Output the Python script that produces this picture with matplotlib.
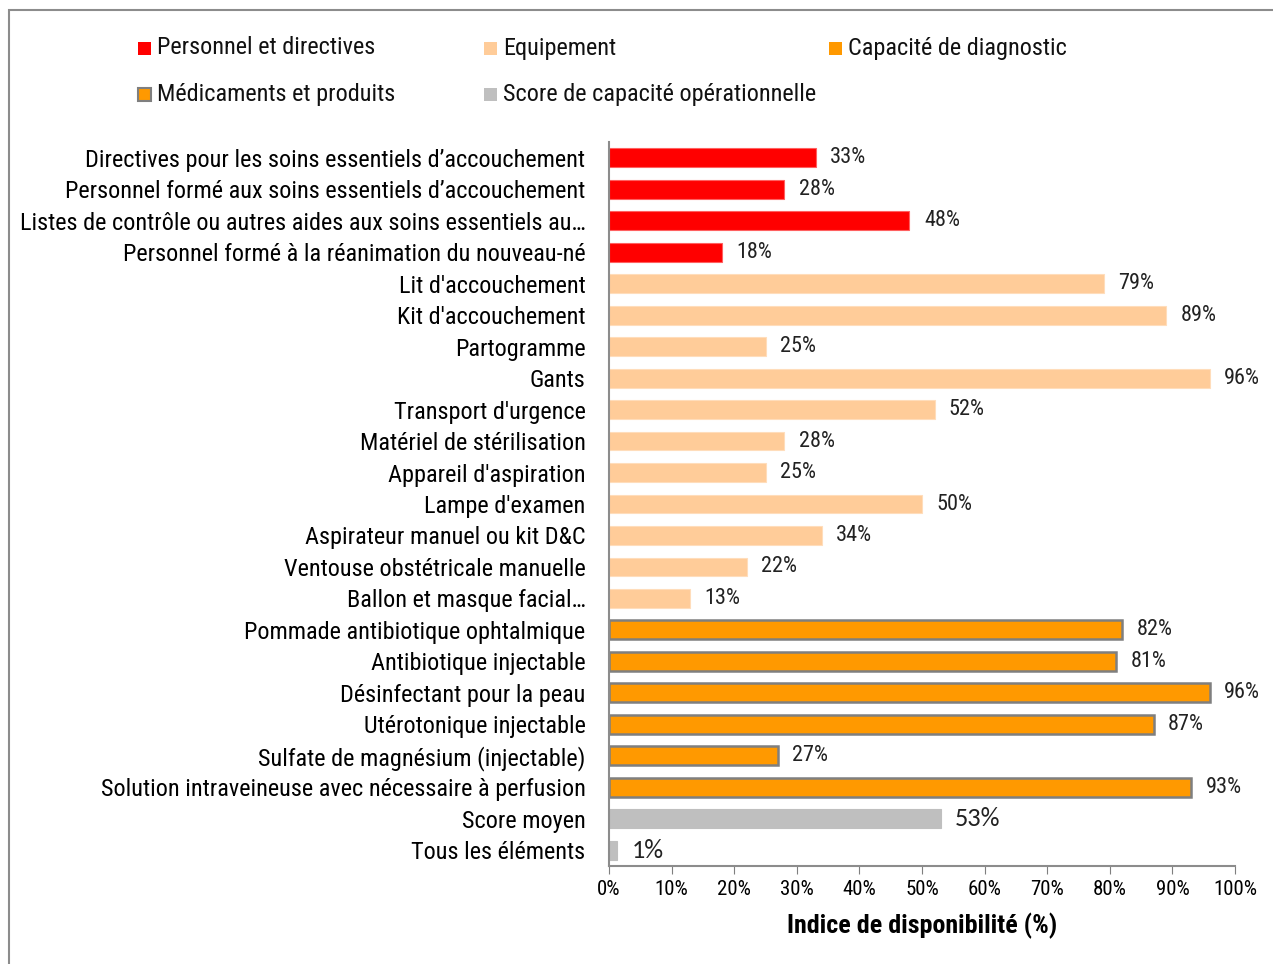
import numpy as np
import matplotlib
matplotlib.use("Agg")
import matplotlib.pyplot as plt
from matplotlib.patches import Rectangle
from matplotlib import font_manager

names = {f.name for f in font_manager.fontManager.ttflist}
narrow = 'Roboto Condensed' if 'Roboto Condensed' in names else 'Liberation Sans'
calib = 'Carlito' if 'Carlito' in names else 'Open Sans'
plt.rcParams['font.family'] = [narrow, 'DejaVu Sans']

labels = [
    "Directives pour les soins essentiels d\u2019accouchement",
    "Personnel formé aux soins essentiels d\u2019accouchement",
    "Listes de contrôle ou autres aides aux soins essentiels au\u2026",
    "Personnel formé à la réanimation du nouveau-né",
    "Lit d'accouchement",
    "Kit d'accouchement",
    "Partogramme",
    "Gants",
    "Transport d'urgence",
    "Matériel de stérilisation",
    "Appareil d'aspiration",
    "Lampe d'examen",
    "Aspirateur manuel ou kit D&C",
    "Ventouse obstétricale manuelle",
    "Ballon et masque facial\u2026",
    "Pommade antibiotique ophtalmique",
    "Antibiotique injectable",
    "Désinfectant pour la peau",
    "Utérotonique injectable",
    "Sulfate de magnésium (injectable)",
    "Solution intraveineuse avec nécessaire à perfusion",
    "Score moyen",
    "Tous les éléments",
]
values = [33, 28, 48, 18, 79, 89, 25, 96, 52, 28, 25, 50, 34, 22, 13,
          82, 81, 96, 87, 27, 93, 53, 1.3]
value_text = ["33%", "28%", "48%", "18%", "79%", "89%", "25%", "96%", "52%", "28%",
              "25%", "50%", "34%", "22%", "13%", "82%", "81%", "96%", "87%", "27%",
              "93%", "53%", "1%"]
groups = ["perso"] * 4 + ["equip"] * 11 + ["med"] * 6 + ["score"] * 2

legend_names = {
    "perso": "Personnel et directives",
    "equip": "Equipement",
    "diag": "Capacité de diagnostic",
    "med": "Médicaments et produits",
    "score": "Score de capacité opérationnelle",
}
fill = {"perso": "#FF0000", "equip": "#FFCC99", "diag": "#FF9900",
        "med": "#FF9900", "score": "#BFBFBF"}
edge = {"perso": "#FF6060", "equip": "#FFDDBB", "diag": "#FF9900",
        "med": "#7F7F7F", "score": "#BFBFBF"}

fig = plt.figure(figsize=(12.73, 9.64), dpi=100)
ax = fig.add_axes([609 / 1273, 1 - 866 / 964, 626 / 1273, (866 - 142) / 964])

y = np.arange(len(labels))
for i in range(len(labels)):
    g = groups[i]
    lw = 1.8 if g == "med" else 0.8
    ax.barh(y[i], values[i], height=0.6, color=fill[g], edgecolor=edge[g], linewidth=lw)
    if g == "score":
        ax.text(values[i] + 2.3, y[i], value_text[i], va='center', ha='left',
                fontsize=19, family=[calib, 'DejaVu Sans'], color='#222222')
    else:
        ax.text(values[i] + 2.3, y[i], value_text[i], va='center', ha='left',
                fontsize=16, color='#222222')

ax.set_ylim(len(labels) - 0.5, -0.5)
ax.set_xlim(0, 100)
ax.set_yticks(y)
ax.set_yticklabels(labels, fontsize=17.5)
ax.tick_params(axis='y', length=0, pad=17)
ax.set_xticks(np.arange(0, 101, 10))
ax.set_xticklabels([f"{t}%" for t in range(0, 101, 10)], fontsize=15)
ax.tick_params(axis='x', length=6, color='#7F7F7F', direction='out', pad=4)
for s in ['top', 'right']:
    ax.spines[s].set_visible(False)
for s in ['left', 'bottom']:
    ax.spines[s].set_color('#8C8C8C')
    ax.spines[s].set_linewidth(1.5)
ax.set_xlabel("Indice de disponibilité (%)", fontsize=18.7, fontweight='bold', labelpad=10)

# legend placed by hand like the source
legend_pos = {"perso": (138, 48), "equip": (484, 48), "diag": (829, 48),
              "med": (138, 94), "score": (484, 94)}
for key, (px, py) in legend_pos.items():
    s = 13
    lw = 1.5 if key == "med" else 0
    fig.patches.append(Rectangle((px / 1273, 1 - (py + s / 2) / 964), s / 1273, s / 964,
                                 transform=fig.transFigure, facecolor=fill[key],
                                 edgecolor='#7F7F7F', linewidth=lw))
    fig.text((px + s + 6) / 1273, 1 - py / 964, legend_names[key], fontsize=17.5,
             va='center', ha='left', color='#111111')

# outer frame and clipped title
fig.patches.append(Rectangle((9 / 1273, -0.05), 1.1, 1 - 10 / 964 + 0.05,
                             transform=fig.transFigure, facecolor='none',
                             edgecolor='#8C8C8C', linewidth=1.5))
fig.text(8 / 1273, 1 + 14 / 964, "offrant des services d'accouchement (N=455)",
         fontsize=20, fontweight='bold', color='#0070C0', va='center', ha='left',
         family=['Liberation Sans', 'DejaVu Sans'])

fig.savefig("out.png", dpi=100)
